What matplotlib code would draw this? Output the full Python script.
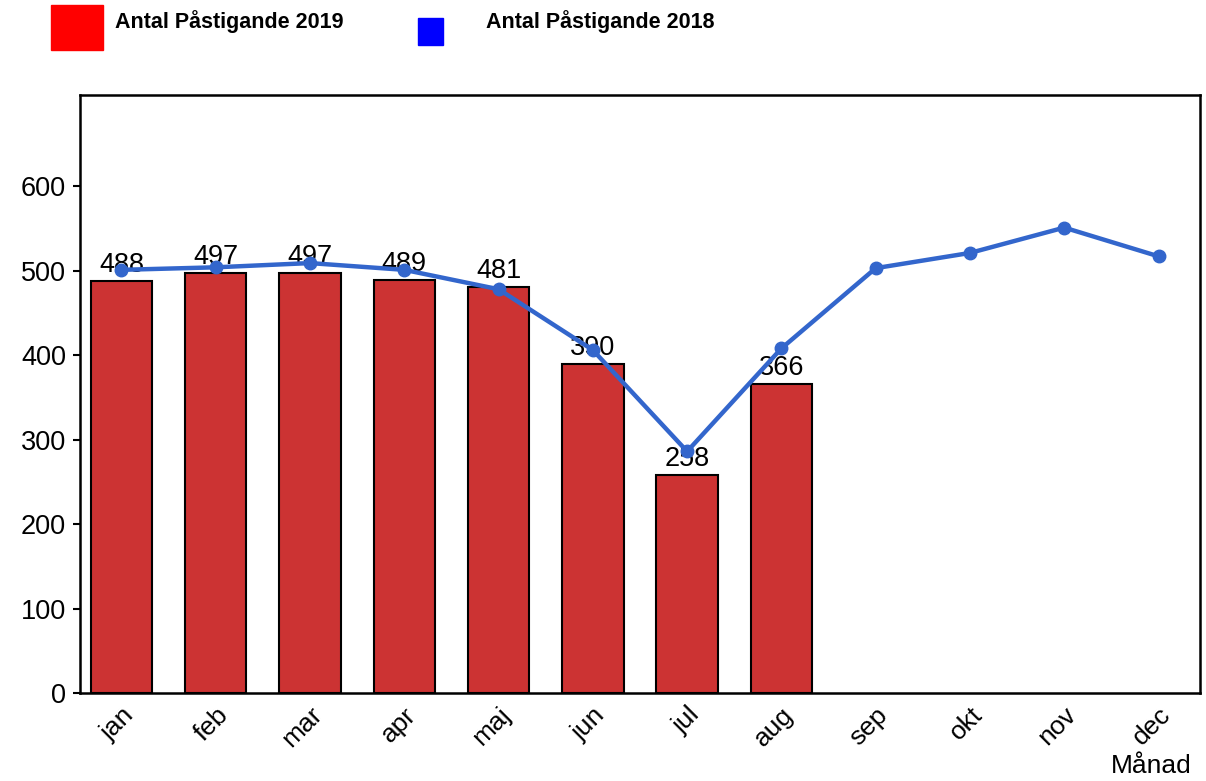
import matplotlib
matplotlib.use("Agg")
import matplotlib.pyplot as plt
from matplotlib.patches import Rectangle

months = ["jan", "feb", "mar", "apr", "maj", "jun", "jul", "aug", "sep", "okt", "nov", "dec"]
values_2019 = [488, 497, 497, 489, 481, 390, 258, 366]
values_2018 = [501, 504, 509, 501, 478, 406, 286, 408, 503, 521, 551, 517]
yticks = [0, 100, 200, 300, 400, 500, 600]
label_2019 = "Antal Påstigande 2019"
label_2018 = "Antal Påstigande 2018"
xlabel = "Månad"

plt.rcParams['font.family'] = ['Liberation Sans', 'DejaVu Sans']

fig = plt.figure(figsize=(12.06, 7.81), dpi=100)
ax = fig.add_axes([80/1206, 1-693/781, 1120/1206, 598/781])

x = list(range(len(months)))
ax.bar(x[:len(values_2019)], values_2019, width=0.65, color="#CC3333",
       edgecolor="black", linewidth=1.5, zorder=2)
for xi, v in zip(x, values_2019):
    ax.annotate(str(v), (xi, v), xytext=(0, 2), textcoords="offset points",
                ha="center", va="bottom", fontsize=19.5, zorder=3)
ax.plot(x, values_2018, color="#3366CC", linewidth=3.2, marker="o",
        markersize=9, zorder=4)

ax.set_xlim(-0.44, 11.44)
ax.set_ylim(0, 708)
ax.set_yticks(yticks)
ax.set_yticklabels([str(t) for t in yticks], fontsize=19.5)
ax.set_xticks(x)
ax.set_xticklabels(months, fontsize=19, rotation=45, ha="right",
                   rotation_mode="anchor")
ax.tick_params(axis="x", length=0, pad=7)
ax.tick_params(axis="y", length=5, width=1.5, direction="out", pad=5)
for s in ax.spines.values():
    s.set_linewidth(1.8)

fig.text(1192/1206, 1-766/781, xlabel, ha="right", va="center", fontsize=19)

# legend
fig.patches.append(Rectangle((51/1206, 1-50/781), 52/1206, 45/781,
                             transform=fig.transFigure, color="#FF0000"))
fig.patches.append(Rectangle((418/1206, 1-45/781), 25/1206, 27/781,
                             transform=fig.transFigure, color="#0000FF"))
fig.text(115/1206, 1-22/781, label_2019, ha="left", va="center",
         fontsize=15.5, fontweight="bold")
fig.text(486/1206, 1-22/781, label_2018, ha="left", va="center",
         fontsize=15.5, fontweight="bold")

fig.savefig("out.png", dpi=100, facecolor="white")
